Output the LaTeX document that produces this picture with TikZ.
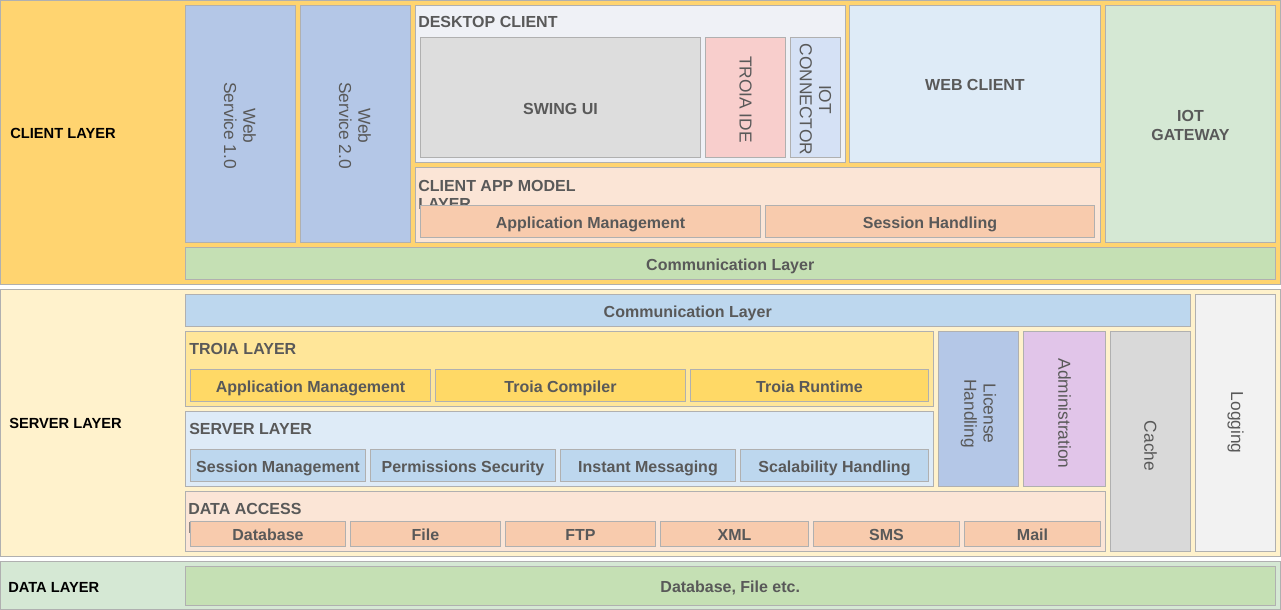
\documentclass[tikz,border=0pt]{standalone}
\usepackage{fontspec}
\setmainfont{Liberation Sans}
\definecolor{boxline}{HTML}{B0B0B0}
\definecolor{txtgrey}{HTML}{595959}
\definecolor{clientbg}{HTML}{FFD470}
\definecolor{serverbg}{HTML}{FFF2CC}
\definecolor{databg}{HTML}{D5E8D4}
\definecolor{wsblue}{HTML}{B4C7E7}
\definecolor{dcbg}{HTML}{EFF1F6}
\definecolor{swingbg}{HTML}{DDDDDD}
\definecolor{tidebg}{HTML}{F8CECC}
\definecolor{iotcbg}{HTML}{D5E1F5}
\definecolor{wcbg}{HTML}{DEEBF7}
\definecolor{gwbg}{HTML}{D5E8D4}
\definecolor{peachbg}{HTML}{FBE5D6}
\definecolor{peach}{HTML}{F8CBAD}
\definecolor{commgreen}{HTML}{C5E0B4}
\definecolor{commblue}{HTML}{BDD7EE}
\definecolor{logbg}{HTML}{F2F2F2}
\definecolor{troiabg}{HTML}{FFE699}
\definecolor{yellowbox}{HTML}{FFD966}
\definecolor{slbg}{HTML}{DEEBF7}
\definecolor{bluebox}{HTML}{BDD7EE}
\definecolor{admbg}{HTML}{E1C5E9}
\definecolor{cachebg}{HTML}{D9D9D9}
\newcommand\mkbox[6]{%
  \pgfmathsetmacro\bxcx{(#2+#4)/2}%
  \pgfmathsetmacro\bxcy{(#3+#5)/2}%
  \pgfmathsetmacro\bxw{(#4-#2)*0.75}%
  \pgfmathsetmacro\bxh{(#5-#3)*0.75}%
  \node[box, fill=#6, minimum width=\bxw pt, minimum height=\bxh pt] (#1) at (\bxcx,\bxcy) {};}
\begin{document}
\begin{tikzpicture}[x=0.75pt,y=-0.75pt,
  box/.style={draw=boxline, line width=0.75pt, rectangle, inner sep=0pt, outer sep=0pt},
  txt/.style={text=txtgrey, font=\fontsize{12}{14}\selectfont\bfseries, inner sep=0pt, text height=10.1pt, text depth=0pt},
  mtxt/.style={text=txtgrey, font=\fontsize{12}{14}\selectfont\bfseries, inner sep=0pt, align=center},
  rtxt/.style={text=txtgrey, font=\fontsize{13}{14.5}\selectfont, inner sep=0pt, align=center, rotate=-90},
  lyr/.style={text=black, font=\fontsize{11}{13}\selectfont\bfseries, inner sep=0pt, anchor=west, text height=8.6pt, text depth=0pt},
  ttl/.style={text=txtgrey, font=\fontsize{12}{14}\selectfont\bfseries, inner sep=0pt, anchor=west, text height=9.4pt, text depth=0pt},
  ttltwo/.style={text=txtgrey, font=\fontsize{12}{14}\selectfont\bfseries, inner sep=0pt, anchor=north west, align=left}]
\useasboundingbox (0,0) rectangle (1281,610);
% layers
\mkbox{client}{0.5}{0.5}{1280.5}{284}{clientbg}
\mkbox{server}{0.5}{289.5}{1280.5}{556}{serverbg}
\mkbox{data}{0.5}{561}{1280.5}{609.5}{databg}
\node[lyr] (clientl) at (10,132.5) {CLIENT LAYER};
\node[lyr] (serverl) at (9,422.5) {SERVER LAYER};
\node[lyr] (datal) at (8,586.5) {DATA LAYER};
% client layer
\mkbox{ws1}{185}{5.5}{295}{242}{wsblue}
\node[rtxt] (ws1t) at ([yshift=-1.5pt]ws1.center) {Web\\Service 1.0};
\mkbox{ws2}{300}{5.5}{410}{242}{wsblue}
\node[rtxt] (ws2t) at ([yshift=-1.5pt]ws2.center) {Web\\Service 2.0};
\mkbox{dc}{415.5}{5.5}{845}{162}{dcbg}
\node[ttl] (dct) at (418,21.5) {DESKTOP CLIENT};
\mkbox{swing}{420.5}{37.5}{700.5}{157.5}{swingbg}
\node[txt] (swingt) at ([yshift=-7.9pt]swing.center) {SWING UI};
\mkbox{tide}{705.5}{37.5}{785.5}{157.5}{tidebg}
\node[rtxt] (tidet) at ([yshift=-1.5pt]tide.center) {TROIA IDE};
\mkbox{iotc}{790.5}{37.5}{840.5}{157.5}{iotcbg}
\node[rtxt] (iotct) at ([yshift=-1.5pt]iotc.center) {IOT\\CONNECTOR};
\mkbox{wc}{849.5}{5.5}{1100.5}{162}{wcbg}
\node[txt] (wct) at (wc) {WEB CLIENT};
\mkbox{iotg}{1105.5}{5.5}{1275.5}{242}{gwbg}
\node[mtxt] (iotgt) at ([yshift=-1.5pt]iotg.center) {IOT\\GATEWAY};
\mkbox{cam}{415.5}{167.5}{1100.5}{242}{peachbg}
\node[ttltwo] (camt) at (418,179.8) {CLIENT APP MODEL\\LAYER};
\mkbox{am1}{420.5}{205.5}{760.5}{237.5}{peach}
\node[txt] (am1t) at (am1) {Application Management};
\mkbox{sh}{765.5}{205.5}{1094.5}{237.5}{peach}
\node[txt] (sht) at (sh) {Session Handling};
\mkbox{comm1}{185}{247.5}{1275.5}{279.5}{commgreen}
\node[txt] (comm1t) at (comm1) {Communication Layer};
% server layer
\mkbox{comm2}{185}{294.5}{1190.5}{326.5}{commblue}
\node[txt] (comm2t) at (comm2) {Communication Layer};
\mkbox{log}{1195.5}{294.5}{1275.5}{551}{logbg}
\node[rtxt] (logt) at (log) {Logging};
\mkbox{tl}{185}{331.5}{933.5}{406.5}{troiabg}
\node[ttl] (tlt) at (189,348.5) {TROIA LAYER};
\mkbox{am2}{190.5}{369.5}{430.5}{401.5}{yellowbox}
\node[txt] (am2t) at (am2) {Application Management};
\mkbox{tc}{435.5}{369.5}{685.5}{401.5}{yellowbox}
\node[txt] (tct) at (tc) {Troia Compiler};
\mkbox{tr}{690.5}{369.5}{928.5}{401.5}{yellowbox}
\node[txt] (trt) at (tr) {Troia Runtime};
\mkbox{sl}{185}{411.5}{933.5}{486.5}{slbg}
\node[ttl] (slt) at (189,428.5) {SERVER LAYER};
\mkbox{sm}{190.5}{449.5}{365.5}{481.5}{bluebox}
\node[txt] (smt) at (sm) {Session Management};
\mkbox{ps}{370.5}{449.5}{555.5}{481.5}{bluebox}
\node[txt] (pst) at (ps) {Permissions Security};
\mkbox{im}{560.5}{449.5}{735.5}{481.5}{bluebox}
\node[txt] (imt) at (im) {Instant Messaging};
\mkbox{scal}{740.5}{449.5}{928.5}{481.5}{bluebox}
\node[txt] (scalt) at (scal) {Scalability Handling};
\mkbox{lic}{938.5}{331.5}{1018.5}{486.5}{wsblue}
\node[rtxt] (lict) at ([yshift=-3.5pt]lic.center) {License\\Handling};
\mkbox{adm}{1023.5}{331.5}{1105.5}{486.5}{admbg}
\node[rtxt] (admt) at ([yshift=-3.5pt]adm.center) {Administration};
\mkbox{cache}{1110.5}{331.5}{1190.5}{551}{cachebg}
\node[rtxt] (cachet) at ([yshift=-3.5pt]cache.center) {Cache};
\mkbox{da}{185}{491.5}{1105.5}{551}{peachbg}
\node[ttltwo] (dat) at (188,503.3) {DATA ACCESS\\LAYER};
\mkbox{db}{190.5}{521.5}{345.5}{546.5}{peach}
\node[txt] (dbt) at (db) {Database};
\mkbox{file}{350.5}{521.5}{500.5}{546.5}{peach}
\node[txt] (filet) at (file) {File};
\mkbox{ftp}{505.5}{521.5}{655.5}{546.5}{peach}
\node[txt] (ftpt) at (ftp) {FTP};
\mkbox{xml}{660.5}{521.5}{808.5}{546.5}{peach}
\node[txt] (xmlt) at (xml) {XML};
\mkbox{sms}{813.5}{521.5}{959.5}{546.5}{peach}
\node[txt] (smst) at (sms) {SMS};
\mkbox{mail}{964.5}{521.5}{1100.5}{546.5}{peach}
\node[txt] (mailt) at (mail) {Mail};
% data layer
\mkbox{dfe}{185}{566.5}{1275.5}{605.5}{commgreen}
\node[txt] (dfet) at (dfe) {Database, File etc.};
\end{tikzpicture}
\end{document}
